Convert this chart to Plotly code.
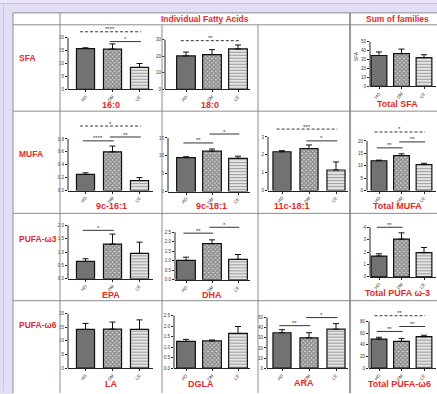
import plotly.graph_objects as go

W, H = 437, 394
RED = "#e52a2a"
FONT = "Liberation Sans, Arial, sans-serif"

groups = ["HD", "DM", "CE"]

# mean values and upper error (SEM) per fatty acid, order HD / DM / CE
fa_16_0 = [15.8, 15.6, 8.5]
fa_16_0_err = [0.3, 2.0, 1.5]
fa_18_0 = [20.2, 21.0, 24.4]
fa_18_0_err = [2.3, 3.0, 2.4]
total_sfa = [34.5, 36.7, 32.2]
total_sfa_err = [4.0, 5.0, 3.2]

fa_9c_16_1 = [0.25, 0.60, 0.155]
fa_9c_16_1_err = [0.025, 0.09, 0.045]
fa_9c_18_1 = [9.5, 11.3, 9.3]
fa_9c_18_1_err = [0.25, 0.6, 0.6]
fa_11c_18_1 = [2.17, 2.35, 1.15]
fa_11c_18_1_err = [0.06, 0.2, 0.45]
total_mufa = [12.0, 14.1, 10.5]
total_mufa_err = [0.25, 0.7, 0.5]

epa = [0.65, 1.30, 0.95]
epa_err = [0.1, 0.37, 0.42]
dha = [1.02, 1.90, 1.08]
dha_err = [0.17, 0.2, 0.25]
total_w3 = [1.68, 3.05, 1.95]
total_w3_err = [0.18, 0.5, 0.42]

la = [14.2, 14.3, 14.2]
la_err = [2.2, 2.6, 3.5]
dgla = [1.27, 1.30, 1.65]
dgla_err = [0.1, 0.04, 0.33]
ara = [35.0, 30.0, 38.5]
ara_err = [3.0, 5.0, 5.5]
total_w6 = [50.0, 46.0, 54.0]
total_w6_err = [3.0, 5.0, 2.5]

# significance brackets: (group from, group to, stars, bracket height in data units)
sig_16_0 = [(0, 2, "****", 22.3), (1, 2, "*", 18.5)]
sig_18_0 = [(0, 2, "**", 29.4)]
sig_total_sfa = []
sig_9c_16_1 = [(0, 2, "*", 1.0), (0, 1, "****", 0.77), (1, 2, "**", 0.83)]
sig_9c_18_1 = [(0, 1, "**", 13.6), (1, 2, "*", 16.1)]
sig_11c_18_1 = [(0, 2, "***", 3.44), (1, 2, "*", 2.78)]
sig_total_mufa = [(0, 2, "*", 23.6), (0, 1, "**", 17.2), (1, 2, "**", 19.6)]
sig_epa = [(0, 1, "*", 1.81)]
sig_dha = [(0, 1, "**", 2.45), (1, 2, "*", 2.76)]
sig_total_w3 = [(0, 1, "**", 4.0)]
sig_la = []
sig_dgla = []
sig_ara = [(0, 1, "**", 42.0), (1, 2, "*", 50.0)]
sig_total_w6 = [(0, 2, "**", 90.0), (0, 1, "**", 63.0), (1, 2, "**", 71.5)]

# table geometry (pixels)
row_top = [25, 112, 215, 303]
col_geom = {1: (85.5, 27.0, 153), 2: (186.0, 26.0, 250), 3: (282.0, 27.0, 348), 4: (379.0, 22.5, 436)}
bar_width = {1: 0.67, 2: 0.72, 3: 0.67, 4: 0.70}

# col, row, axis x, zero y, top-tick y, top tick, dtick, format
panels = [
    ("16:0", fa_16_0, fa_16_0_err, sig_16_0, 1, 0, 68, 90, 38, 20, 5, "", ""),
    ("18:0", fa_18_0, fa_18_0_err, sig_18_0, 2, 0, 165, 90, 40, 30, 10, "", ""),
    ("Total SFA", total_sfa, total_sfa_err, sig_total_sfa, 4, 0, 370, 87, 42, 50, 10, "", "SFA"),
    ("9c-16:1", fa_9c_16_1, fa_9c_16_1_err, sig_9c_16_1, 1, 1, 68, 192, 140, 0.8, 0.2, ".1f", ""),
    ("9c-18:1", fa_9c_18_1, fa_9c_18_1_err, sig_9c_18_1, 2, 1, 168, 193, 139, 15, 5, "", ""),
    ("11c-18:1", fa_11c_18_1, fa_11c_18_1_err, sig_11c_18_1, 3, 1, 268, 192, 138, 3, 1, "", ""),
    ("Total MUFA", total_mufa, total_mufa_err, sig_total_mufa, 4, 1, 367, 192, 142, 20, 5, "", ""),
    ("EPA", epa, epa_err, sig_epa, 1, 2, 68, 281, 227, 2.0, 0.5, ".1f", ""),
    ("DHA", dha, dha_err, sig_dha, 2, 2, 175, 282, 234, 2.5, 0.5, ".1f", ""),
    ("Total PUFA ω-3", total_w3, total_w3_err, sig_total_w3, 4, 2, 370, 279, 229, 4, 1, "", ""),
    ("LA", la, la_err, sig_la, 1, 3, 68, 371, 316, 20, 5, "", ""),
    ("DGLA", dgla, dgla_err, sig_dgla, 2, 3, 174, 371, 318, 2.5, 0.5, ".1f", ""),
    ("ARA", ara, ara_err, sig_ara, 3, 3, 267, 371, 320, 50, 10, "", ""),
    ("Total PUFA-ω6", total_w6, total_w6_err, sig_total_w6, 4, 3, 369, 371, 324, 80, 20, "", ""),
]

fig = go.Figure()
shapes = []
annotations = []
layout_axes = {}

# page background and table
shapes.append(dict(type="rect", xref="paper", yref="paper", x0=13 / W, x1=1.02, y0=-0.02, y1=1 - 13 / H,
                   fillcolor="white", line=dict(width=0), layer="below"))
shapes.append(dict(type="rect", xref="paper", yref="paper", x0=0, x1=1, y0=1 - 3.5 / H, y1=1,
                   fillcolor="#ebe7f9", line=dict(width=0), layer="below"))
shapes.append(dict(type="line", xref="paper", yref="paper", x0=0, x1=1, y0=1 - 3.5 / H, y1=1 - 3.5 / H,
                   line=dict(color="#c8bfe6", width=1), layer="below"))
shapes.append(dict(type="line", xref="paper", yref="paper", x0=3.5 / W, x1=3.5 / W, y0=0, y1=1 - 3.5 / H,
                   line=dict(color="#cdc5ea", width=1), layer="below"))

grid = "#8c8c8c"
def hline(py, x0=13, x1=W + 2):
    shapes.append(dict(type="line", xref="paper", yref="paper", x0=x0 / W, x1=x1 / W,
                       y0=1 - py / H, y1=1 - py / H, line=dict(color=grid, width=1), layer="above"))
def vline(px, y0=13, y1=H + 2, width=1, color=grid):
    shapes.append(dict(type="line", xref="paper", yref="paper", x0=px / W, x1=px / W,
                       y0=1 - y0 / H, y1=1 - y1 / H, line=dict(color=color, width=width), layer="above"))

for py in [13, 25, 112, 215, 303]:
    hline(py)
vline(13)
vline(60)
vline(162, y0=25)
vline(258, y0=25)
vline(350, width=1.5, color="#777777")

def text(px, py, s, size, xanchor="center"):
    annotations.append(dict(xref="paper", yref="paper", x=px / W, y=1 - py / H, text="<b>%s</b>" % s,
                            showarrow=False, xanchor=xanchor, yanchor="middle",
                            font=dict(family=FONT, size=size, color=RED)))

text(205, 19, "Individual Fatty Acids", 8.5)
text(397, 19, "Sum of families", 8.5)
text(17, 58, "SFA", 8.5, "left")
text(17, 155, "MUFA", 8.5, "left")
text(17, 241, "PUFA-ω3", 8.5, "left")
text(17, 327, "PUFA-ω6", 8.5, "left")

title_pos = {
    "16:0": (111, 106), "18:0": (210, 106), "Total SFA": (397, 105),
    "9c-16:1": (111, 208), "9c-18:1": (211, 208), "11c-18:1": (292, 208), "Total MUFA": (397, 208),
    "EPA": (111, 297), "DHA": (212, 297), "Total PUFA ω-3": (397, 295),
    "LA": (111, 387), "DGLA": (201, 387), "ARA": (304, 386), "Total PUFA-ω6": (399, 387),
}

bar_colors = ["#727272", "#d8d8d8", "#f4f4f4"]
pat_shapes = ["", "x", "-"]
pat_fg = ["#727272", "#1a1a1a", "#b3b3b3"]
pat_size = [3, 3, 3]
pat_solid = [0.3, 0.75, 0.45]

for k, (name, mean, err, sig, col, row, ax_px, zero_px, tt_px, top_tick, dtick, fmt, ytitle) in enumerate(panels, start=1):
    c0, step, end_px = col_geom[col]
    top_px = row_top[row] + 2
    ymax = top_tick * (zero_px - top_px) / (zero_px - tt_px)
    xr = [(ax_px - c0) / step, (end_px - c0) / step]
    xs = "" if k == 1 else str(k)

    fig.add_trace(go.Bar(
        x=groups, y=mean, width=bar_width[col], xaxis="x" + xs, yaxis="y" + xs,
        marker=dict(color=bar_colors, line=dict(color="#111111", width=1.2),
                    pattern=dict(shape=pat_shapes, fgcolor=pat_fg, size=pat_size, solidity=pat_solid)),
        error_y=dict(type="data", symmetric=False, array=err, arrayminus=[0, 0, 0],
                     color="#111111", thickness=1, width=3),
        showlegend=False, hoverinfo="skip",
    ))

    n = int(round(top_tick / dtick))
    tickvals = [i * dtick for i in range(n + 1)]
    layout_axes["xaxis" + xs] = dict(
        domain=[ax_px / W, end_px / W], anchor="y" + xs, range=xr, type="category",
        showline=True, linecolor="#222222", linewidth=1, ticks="outside", ticklen=2, tickwidth=1,
        tickcolor="#222222", tickangle=-50, tickfont=dict(family=FONT, size=4.5, color="#333333"),
        showgrid=False, zeroline=False, fixedrange=True,
    )
    layout_axes["yaxis" + xs] = dict(
        domain=[1 - zero_px / H, 1 - top_px / H], anchor="x" + xs, range=[0, ymax],
        tickvals=tickvals, tickformat=fmt, ticks="outside", ticklen=2, tickwidth=1,
        tickcolor="#222222", tickfont=dict(family=FONT, size=4.5, color="#333333"),
        showline=False, showgrid=False, zeroline=False, fixedrange=True,
        title=dict(text=ytitle, font=dict(family=FONT, size=5, color="#333333"), standoff=2),
    )
    # y axis line runs only up to the highest tick
    shapes.append(dict(type="line", xref="x%s domain" % xs, yref="y%s domain" % xs,
                       x0=0, x1=0, y0=0, y1=top_tick / ymax,
                       line=dict(color="#222222", width=1), layer="above"))

    for (i, j, stars, h) in sig:
        dashed = (j - i) > 1
        x0 = i - (0.2 if dashed else 0.1)
        x1 = j + 0.05
        shapes.append(dict(type="line", xref="x" + xs, yref="y" + xs, x0=x0, x1=x1, y0=h, y1=h,
                           line=dict(color="#333333", width=1, dash="3px,2px" if dashed else "solid"),
                           layer="above"))
        annotations.append(dict(xref="x" + xs, yref="y" + xs, x=(x0 + x1) / 2, y=h, text=stars,
                                showarrow=False, yanchor="bottom", yshift=-2.5,
                                font=dict(family=FONT, size=6, color="#333333")))

    tx, ty = title_pos[name]
    text(tx, ty, name, 9)

fig.update_layout(
    width=W, height=H, margin=dict(l=0, r=0, t=0, b=0),
    paper_bgcolor="#e3def4", plot_bgcolor="white",
    shapes=shapes, annotations=annotations, bargap=0.3,
    **layout_axes,
)

fig.write_html("out.html")
